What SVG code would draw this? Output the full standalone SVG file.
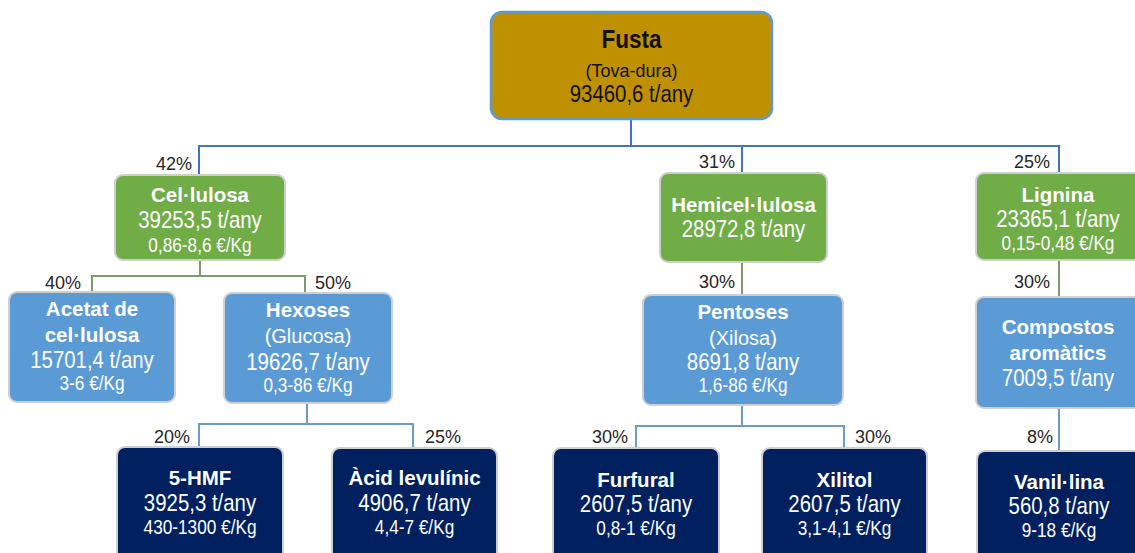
<svg xmlns="http://www.w3.org/2000/svg" width="1135" height="553" viewBox="0 0 1135 553">
<style>
.t{font-family:"Liberation Sans",Arial,sans-serif;text-anchor:middle;fill:#fff}
.b{font-weight:bold;font-size:20.5px}
.v{font-size:24px}
.p{font-size:21px}
.n{font-size:20px}
.pct{font-family:"Liberation Sans",Arial,sans-serif;font-size:18px;fill:#262626}
.e{text-anchor:end}
.gr{fill:#70AD47;stroke:#CFCFCF;stroke-width:2}
.bl{fill:#5B9BD5;stroke:#CFCFCF;stroke-width:2}
.nv{fill:#002060;stroke:#CFCFCF;stroke-width:2}
.c1{fill:none;stroke:#4472C4;stroke-width:2}
.c2{fill:none;stroke:#7F9A6A;stroke-width:2}
.c3{fill:none;stroke:#6F9CC6;stroke-width:2}
</style>
<rect width="1135" height="553" fill="#fff"/>
<g id="connectors">
<path class="c1" d="M631,119V146M199,175V146H1059V173M742,146V173"/>
<path class="c2" d="M200,260V276M92,292V276H305V293M742,262V295M1059,260V297"/>
<path class="c3" d="M307,402V424M199,447V424H413V448M742,405V426M636,448V426H844V448M1059,408V451"/>
</g>
<g id="labels">
<text class="pct e" x="192" y="170">42%</text>
<text class="pct e" x="735" y="168">31%</text>
<text class="pct e" x="1050" y="168">25%</text>
<text class="pct e" x="81" y="289">40%</text>
<text class="pct" x="315" y="289">50%</text>
<text class="pct e" x="735" y="288">30%</text>
<text class="pct e" x="1050" y="288">30%</text>
<text class="pct e" x="190" y="443">20%</text>
<text class="pct" x="425" y="443">25%</text>
<text class="pct e" x="628" y="443">30%</text>
<text class="pct" x="855" y="443">30%</text>
<text class="pct e" x="1053" y="443">8%</text>
</g>
<g id="fusta">
<rect x="491" y="12" width="281" height="107" rx="11" fill="#BF9000" stroke="#5B9BD5" stroke-width="2.5"/>
<text class="t" style="fill:#111;font-weight:bold;font-size:25px" transform="translate(631.5,48) scale(0.9,1)">Fusta</text>
<text class="t" style="fill:#111;font-size:18px" x="631.5" y="77">(Tova-dura)</text>
<text class="t v" style="fill:#111" transform="translate(631.5,102) scale(0.85,1)">93460,6 t/any</text>
</g>
<g id="cellulosa">
<rect class="gr" x="115" y="175" width="170" height="85" rx="8"/>
<text class="t b" x="200" y="202">Cel·lulosa</text>
<text class="t v" transform="translate(200,228) scale(0.85,1)">39253,5 t/any</text>
<text class="t p" transform="translate(200,252) scale(0.82,1)">0,86-8,6 €/Kg</text>
</g>
<g id="hemicellulosa">
<rect class="gr" x="660" y="173" width="167" height="89" rx="8"/>
<text class="t b" x="743.5" y="212">Hemicel·lulosa</text>
<text class="t v" transform="translate(743.5,237) scale(0.85,1)">28972,8 t/any</text>
</g>
<g id="lignina">
<rect class="gr" x="976" y="173" width="166" height="87" rx="8"/>
<text class="t b" x="1058" y="202">Lignina</text>
<text class="t v" transform="translate(1058,227) scale(0.85,1)">23365,1 t/any</text>
<text class="t p" transform="translate(1058,250) scale(0.82,1)">0,15-0,48 €/Kg</text>
</g>
<g id="acetat">
<rect class="bl" x="9" y="292" width="166" height="110" rx="8"/>
<text class="t b" x="92" y="316">Acetat de</text>
<text class="t b" x="92" y="342">cel·lulosa</text>
<text class="t v" transform="translate(92,368) scale(0.85,1)">15701,4 t/any</text>
<text class="t p" transform="translate(92,390) scale(0.82,1)">3-6 €/Kg</text>
</g>
<g id="hexoses">
<rect class="bl" x="224" y="293" width="168" height="110" rx="8"/>
<text class="t b" x="308" y="317">Hexoses</text>
<text class="t n" x="308" y="343">(Glucosa)</text>
<text class="t v" transform="translate(308,370) scale(0.85,1)">19626,7 t/any</text>
<text class="t p" transform="translate(308,392) scale(0.82,1)">0,3-86 €/Kg</text>
</g>
<g id="pentoses">
<rect class="bl" x="643" y="295" width="200" height="110" rx="8"/>
<text class="t b" x="743" y="319">Pentoses</text>
<text class="t n" x="743" y="345">(Xilosa)</text>
<text class="t v" transform="translate(743,370) scale(0.85,1)">8691,8 t/any</text>
<text class="t p" transform="translate(743,392) scale(0.82,1)">1,6-86 €/Kg</text>
</g>
<g id="compostos">
<rect class="bl" x="976" y="297" width="166" height="111" rx="8"/>
<text class="t b" x="1058" y="334">Compostos</text>
<text class="t b" x="1058" y="360">aromàtics</text>
<text class="t v" transform="translate(1058,386) scale(0.85,1)">7009,5 t/any</text>
</g>
<g id="hmf">
<rect class="nv" x="117" y="447" width="166" height="120" rx="8"/>
<text class="t b" x="200" y="485">5-HMF</text>
<text class="t v" transform="translate(200,511) scale(0.85,1)">3925,3 t/any</text>
<text class="t p" transform="translate(200,534) scale(0.82,1)">430-1300 €/Kg</text>
</g>
<g id="levulinic">
<rect class="nv" x="332" y="448" width="165" height="120" rx="8"/>
<text class="t b" x="414.5" y="485">Àcid levulínic</text>
<text class="t v" transform="translate(414.5,511) scale(0.85,1)">4906,7 t/any</text>
<text class="t p" transform="translate(414.5,534) scale(0.82,1)">4,4-7 €/Kg</text>
</g>
<g id="furfural">
<rect class="nv" x="553" y="448" width="166" height="120" rx="8"/>
<text class="t b" x="636" y="487">Furfural</text>
<text class="t v" transform="translate(636,512) scale(0.85,1)">2607,5 t/any</text>
<text class="t p" transform="translate(636,535) scale(0.82,1)">0,8-1 €/Kg</text>
</g>
<g id="xilitol">
<rect class="nv" x="762" y="448" width="165" height="120" rx="8"/>
<text class="t b" x="844.5" y="487">Xilitol</text>
<text class="t v" transform="translate(844.5,512) scale(0.85,1)">2607,5 t/any</text>
<text class="t p" transform="translate(844.5,535) scale(0.82,1)">3,1-4,1 €/Kg</text>
</g>
<g id="vanillina">
<rect class="nv" x="977" y="451" width="166" height="120" rx="8"/>
<text class="t b" x="1059" y="489">Vanil·lina</text>
<text class="t v" transform="translate(1059,514) scale(0.85,1)">560,8 t/any</text>
<text class="t p" transform="translate(1059,537) scale(0.82,1)">9-18 €/Kg</text>
</g>
</svg>
